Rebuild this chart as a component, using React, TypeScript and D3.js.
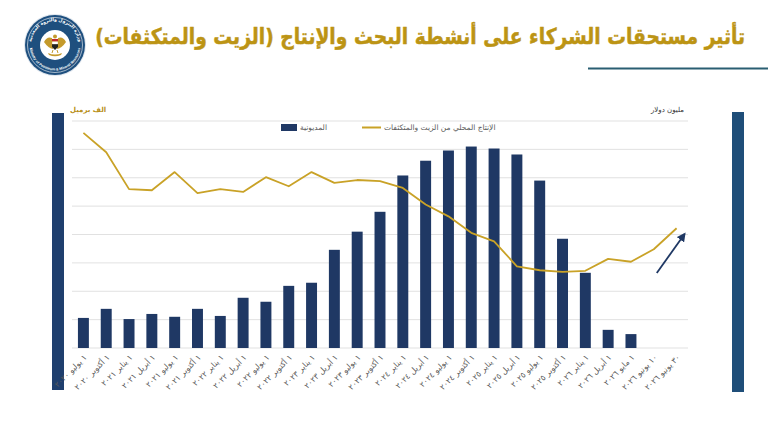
import React, { useLayoutEffect, useRef, useState } from "react";
import * as d3 from "d3";

// Quarterly snapshot dates (Arabic-Indic digits)
const periods = [
  "١ يوليو ٢٠٢٠", "١ أكتوبر ٢٠٢٠",
  "١ يناير ٢٠٢١", "١ أبريل ٢٠٢١", "١ يوليو ٢٠٢١", "١ أكتوبر ٢٠٢١",
  "١ يناير ٢٠٢٢", "١ أبريل ٢٠٢٢", "١ يوليو ٢٠٢٢", "١ أكتوبر ٢٠٢٢",
  "١ يناير ٢٠٢٣", "١ أبريل ٢٠٢٣", "١ يوليو ٢٠٢٣", "١ أكتوبر ٢٠٢٣",
  "١ يناير ٢٠٢٤", "١ أبريل ٢٠٢٤", "١ يوليو ٢٠٢٤", "١ أكتوبر ٢٠٢٤",
  "١ يناير ٢٠٢٥", "١ أبريل ٢٠٢٥", "١ يوليو ٢٠٢٥", "١ أكتوبر ٢٠٢٥",
  "١ يناير ٢٠٢٦", "١ أبريل ٢٠٢٦", "١ مايو ٢٠٢٦", "١٠ يونيو ٢٠٢٦", "٣٠ يونيو ٢٠٢٦",
];

// Partner arrears, million USD (no values for the last two dates)
const debtMillionUsd = [
  1060, 1380, 1020, 1200, 1100, 1380, 1130, 1770, 1630, 2190,
  2300, 3460, 4100, 4800, 6080, 6600, 6960, 7100, 7030, 6820,
  5900, 3850, 2650, 640, 490,
];

// Local crude + condensate production, thousand barrels per day
const productionKbd = [
  779, 745, 680, 678, 710, 673, 680, 675, 701, 685,
  710, 691, 696, 694, 682, 653, 632, 603, 588, 544,
  537, 534, 536, 557, 552, 574, 611,
];

const seriesNames = ["المديونية", "الإنتاج المحلي من الزيت والمتكثفات"];
const titleText = "تأثير مستحقات الشركاء على أنشطة البحث والإنتاج (الزيت والمتكثفات)";
const leftUnit = "الف برميل";
const rightUnit = "مليون دولار";
const ministryAr = "وزارة البترول والثروة المعدنية";
const ministryEn = "Ministry of Petroleum & Mineral Resources";

const W = 768;
const H = 432;
const plot = { left: 72, right: 688, top: 121, bottom: 348 };
const TITLE_WIDTH = 650;

const NAVY = "#1F3864";
const GOLD = "#C9A227";
const TITLE_GOLD = "#BC9414";
const AR_FONT = "'DejaVu Sans', sans-serif";

function Logo({ cx, cy }: { cx: number; cy: number }) {
  const r = 30;
  const arcTop = `M ${cx - 24} ${cy} A 24 24 0 0 1 ${cx + 24} ${cy}`;
  const arcBottom = `M ${cx - 25.5} ${cy} A 25.5 25.5 0 0 0 ${cx + 25.5} ${cy}`;
  return (
    <g>
      <defs>
        <path id="ringTop" d={arcTop} />
        <path id="ringBottom" d={arcBottom} />
      </defs>
      <circle cx={cx} cy={cy} r={r + 1} fill="#dfe6ee" />
      <circle cx={cx} cy={cy} r={r} fill="#1E4F7E" />
      <circle cx={cx} cy={cy} r={r - 2.5} fill="none" stroke="#fff" strokeWidth={0.6} />
      <text fontFamily={AR_FONT} fontSize={4.6} fill="#fff" fontWeight="bold">
        <textPath href="#ringTop" startOffset="50%" textAnchor="middle">{ministryAr}</textPath>
      </text>
      <text fontFamily="'Liberation Sans', sans-serif" fontSize={3.6} fill="#fff" fontWeight="bold">
        <textPath href="#ringBottom" startOffset="50%" textAnchor="middle">{ministryEn}</textPath>
      </text>
      <circle cx={cx} cy={cy} r={15} fill="#fff" />
      {/* eagle emblem */}
      <g transform={`translate(${cx},${cy})`}>
        <path d="M -11 -3 Q -8 -9 -3 -7 L -2 4 Q -7 3 -11 -3 Z" fill="#C49A2C" />
        <path d="M 11 -3 Q 8 -9 3 -7 L 2 4 Q 7 3 11 -3 Z" fill="#C49A2C" />
        <circle cx={0} cy={-8.5} r={2} fill="#C49A2C" />
        <rect x={-3} y={-6} width={6} height={2.6} fill="#C0262D" />
        <rect x={-3} y={-3.4} width={6} height={2.6} fill="#fff" stroke="#C49A2C" strokeWidth={0.3} />
        <rect x={-3} y={-0.8} width={6} height={2.8} fill="#222" />
        <path d="M -3 2 L 0 5 L 3 2 Z" fill="#222" />
        <path d="M -7 8 Q 0 11 7 8 L 6 10 Q 0 12.5 -6 10 Z" fill="#C49A2C" />
        <path d="M -2 5 L -3 8 M 2 5 L 3 8" stroke="#C49A2C" strokeWidth={1} />
      </g>
    </g>
  );
}

export default function App() {
  const titleRef = useRef<SVGTextElement>(null);
  const [titleScale, setTitleScale] = useState(0.85);

  // squeeze the heading horizontally so it spans the header band
  useLayoutEffect(() => {
    const el = titleRef.current;
    if (!el) return;
    const w = el.getComputedTextLength();
    if (w > 0) setTitleScale(TITLE_WIDTH / w);
  }, []);

  const x = d3
    .scaleBand<string>()
    .domain(periods)
    .range([plot.left, plot.right])
    .paddingInner(0.52)
    .paddingOuter(0.26);
  const cx = (i: number) => (x(periods[i]) ?? 0) + x.bandwidth() / 2;

  const yDebt = d3.scaleLinear().domain([0, 8000]).range([plot.bottom, plot.top]);
  const yProd = d3.scaleLinear().domain([400, 800]).range([plot.bottom, plot.top]);

  const grid = yDebt.ticks(8);

  const line = d3
    .line<number>()
    .x((_, i) => cx(i))
    .y((d) => yProd(d))
    .curve(d3.curveLinear);

  // trend arrow beside the latest production points
  const n = periods.length;
  const arrowStart: [number, number] = [cx(n - 2) + 3, yProd(532)];
  const arrowEnd: [number, number] = [cx(n - 1) + 8, yProd(601)];

  return (
    <svg
      width={W}
      height={H}
      viewBox={`0 0 ${W} ${H}`}
      style={{ position: "fixed", left: 0, top: 0, background: "#fff" }}
    >
      <defs>
        <marker id="arrowHead" viewBox="0 0 10 10" refX={8} refY={5} markerWidth={5} markerHeight={5} orient="auto">
          <path d="M 0 0 L 10 5 L 0 10 Z" fill={NAVY} />
        </marker>
      </defs>
      <rect x={0} y={0} width={W} height={H} fill="#fff" />

      <Logo cx={55} cy={45} />

      <g transform={`translate(745,44) scale(${titleScale},1)`}>
        <text
          ref={titleRef}
          x={0}
          y={0}
          textAnchor="end"
          fontFamily={AR_FONT}
          fontWeight="bold"
          fontSize={22}
          fill={TITLE_GOLD}
          stroke={TITLE_GOLD}
          strokeWidth={0.5}
        >
          {titleText}
        </text>
      </g>
      <line x1={588} x2={768} y1={68.5} y2={68.5} stroke="#2A5E72" strokeWidth={2} />

      {/* side accent bars */}
      <rect x={52} y={113} width={12} height={277} fill="#1F3F6E" />
      <rect x={732} y={112} width={12} height={280} fill="#1F4E79" />

      {/* gridlines */}
      {grid.map((t) => (
        <line
          key={t}
          x1={plot.left}
          x2={plot.right}
          y1={yDebt(t)}
          y2={yDebt(t)}
          stroke="#D9D9D9"
          strokeWidth={0.8}
        />
      ))}

      {/* unit captions */}
      <text x={70} y={112} fontFamily={AR_FONT} fontSize={7} fontWeight="bold" fill="#B8901A">
        {leftUnit}
      </text>
      <text x={684} y={112} textAnchor="end" fontFamily={AR_FONT} fontSize={7} fill="#333">
        {rightUnit}
      </text>

      {/* legend */}
      <rect x={281} y={124} width={16} height={7} fill={NAVY} />
      <text x={300} y={130} fontFamily={AR_FONT} fontSize={7.5} fill="#595959">
        {seriesNames[0]}
      </text>
      <line x1={362} x2={381} y1={127.5} y2={127.5} stroke={GOLD} strokeWidth={2} />
      <text x={384} y={130} fontFamily={AR_FONT} fontSize={7.5} fill="#595959">
        {seriesNames[1]}
      </text>

      {/* debt bars */}
      {debtMillionUsd.map((v, i) => (
        <rect
          key={periods[i]}
          x={x(periods[i])}
          y={yDebt(v)}
          width={x.bandwidth()}
          height={yDebt(0) - yDebt(v)}
          fill={NAVY}
        />
      ))}

      {/* production line */}
      <path d={line(productionKbd) ?? ""} fill="none" stroke={GOLD} strokeWidth={1.8} strokeLinejoin="round" />

      <line
        x1={arrowStart[0]}
        y1={arrowStart[1]}
        x2={arrowEnd[0]}
        y2={arrowEnd[1]}
        stroke={NAVY}
        strokeWidth={1.8}
        markerEnd="url(#arrowHead)"
      />

      {/* category labels */}
      {periods.map((p, i) => (
        <text
          key={p}
          transform={`translate(${cx(i) + 4},${plot.bottom + 10}) rotate(-45)`}
          textAnchor="end"
          fontFamily={AR_FONT}
          fontSize={8}
          fill="#595959"
        >
          {p}
        </text>
      ))}
    </svg>
  );
}
